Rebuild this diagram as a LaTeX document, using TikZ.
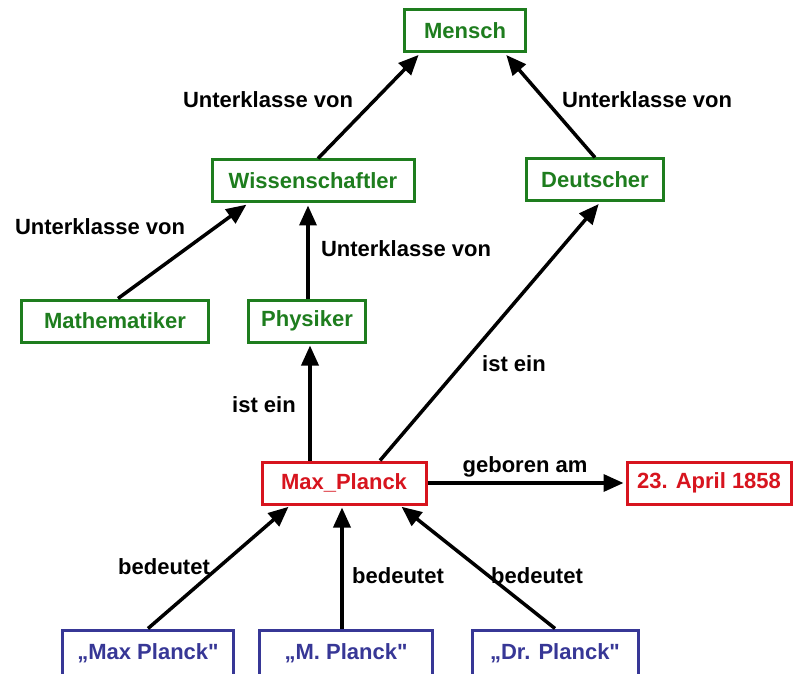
\documentclass[tikz,border=0pt]{standalone}
\usepackage{fontspec}
\newfontfamily\diafont{Liberation Sans}
\usetikzlibrary{arrows.meta}
\definecolor{grn}{RGB}{30,125,30}
\definecolor{rd}{RGB}{215,20,30}
\definecolor{blu}{RGB}{55,55,150}
\begin{document}
\begin{tikzpicture}[x=1pt,y=-1pt,font=\diafont\fontsize{22}{26}\selectfont\bfseries]
        \useasboundingbox (0,0) rectangle (796,674);
        \begin{scope}[every node/.style={draw,line width=3pt,minimum height=42pt,inner xsep=5pt}]
            \node (mensch) [draw=grn,text=grn,minimum width=121pt] at (465,31) {Mensch};
            \node (wiss) [draw=grn,text=grn,minimum width=202pt] at (313,181) {Wissenschaftler};
            \node (deutsch) [draw=grn,text=grn,minimum width=137pt] at (595,180) {Deutscher};
            \node (math) [draw=grn,text=grn,minimum width=187pt] at (115,321) {Mathematiker};
            \node (phys) [draw=grn,text=grn,minimum width=117pt] at (307,321) {Physiker};
            \node (max) [draw=rd,text=rd,minimum width=164pt] at (344,483) {Max\_Planck};
            \node (datum) [draw=rd,text=rd,minimum width=164pt] at (709,483) {23. April 1858};
            \node (q1) [draw=blu,text=blu,minimum height=46pt,minimum width=171pt] at (148,653) {„Max Planck"};
            \node (q2) [draw=blu,text=blu,minimum height=46pt,minimum width=173pt] at (346,653) {„M. Planck"};
            \node (q3) [draw=blu,text=blu,minimum height=46pt,minimum width=166pt] at (555,653) {„Dr. Planck"};
        \end{scope}
        \node (l1) at (268,100) {Unterklasse von};
        \node (l2) at (647,100) {Unterklasse von};
        \node (l3) at (100,227) {Unterklasse von};
        \node (l4) at (406,249) {Unterklasse von};
        \node (l5) at (264,405) {ist ein};
        \node (l6) at (514,364) {ist ein};
        \node (l7) at (525,467) {geboren am};
        \node (l8) at (164,567) {bedeutet};
        \node (l9) at (398,576) {bedeutet};
        \node (l10) at (537,576) {bedeutet};
        \begin{scope}[every edge/.style={draw,line width=3.5pt,shorten >=2pt,-{Triangle[length=20pt,width=17pt]}}]
            \path
                ([xshift=5pt]wiss.north) edge ([xshift=-45pt]mensch.south)
                (deutsch.north) edge ([xshift=40pt]mensch.south)
                ([xshift=3pt]math.north) edge ([xshift=-65pt]wiss.south)
                ([xshift=1pt]phys.north) edge ([xshift=-5pt]wiss.south)
                ([xshift=-34pt]max.north) edge ([xshift=3pt]phys.south)
                ([xshift=36pt]max.north) edge ([xshift=5pt]deutsch.south)
                (max.east) edge (datum.west)
                (q1.north) edge ([xshift=-54pt]max.south)
                ([xshift=-4pt]q2.north) edge ([xshift=-2pt]max.south)
                (q3.north) edge ([xshift=56pt]max.south);
        \end{scope}
    \end{tikzpicture}
\end{document}
